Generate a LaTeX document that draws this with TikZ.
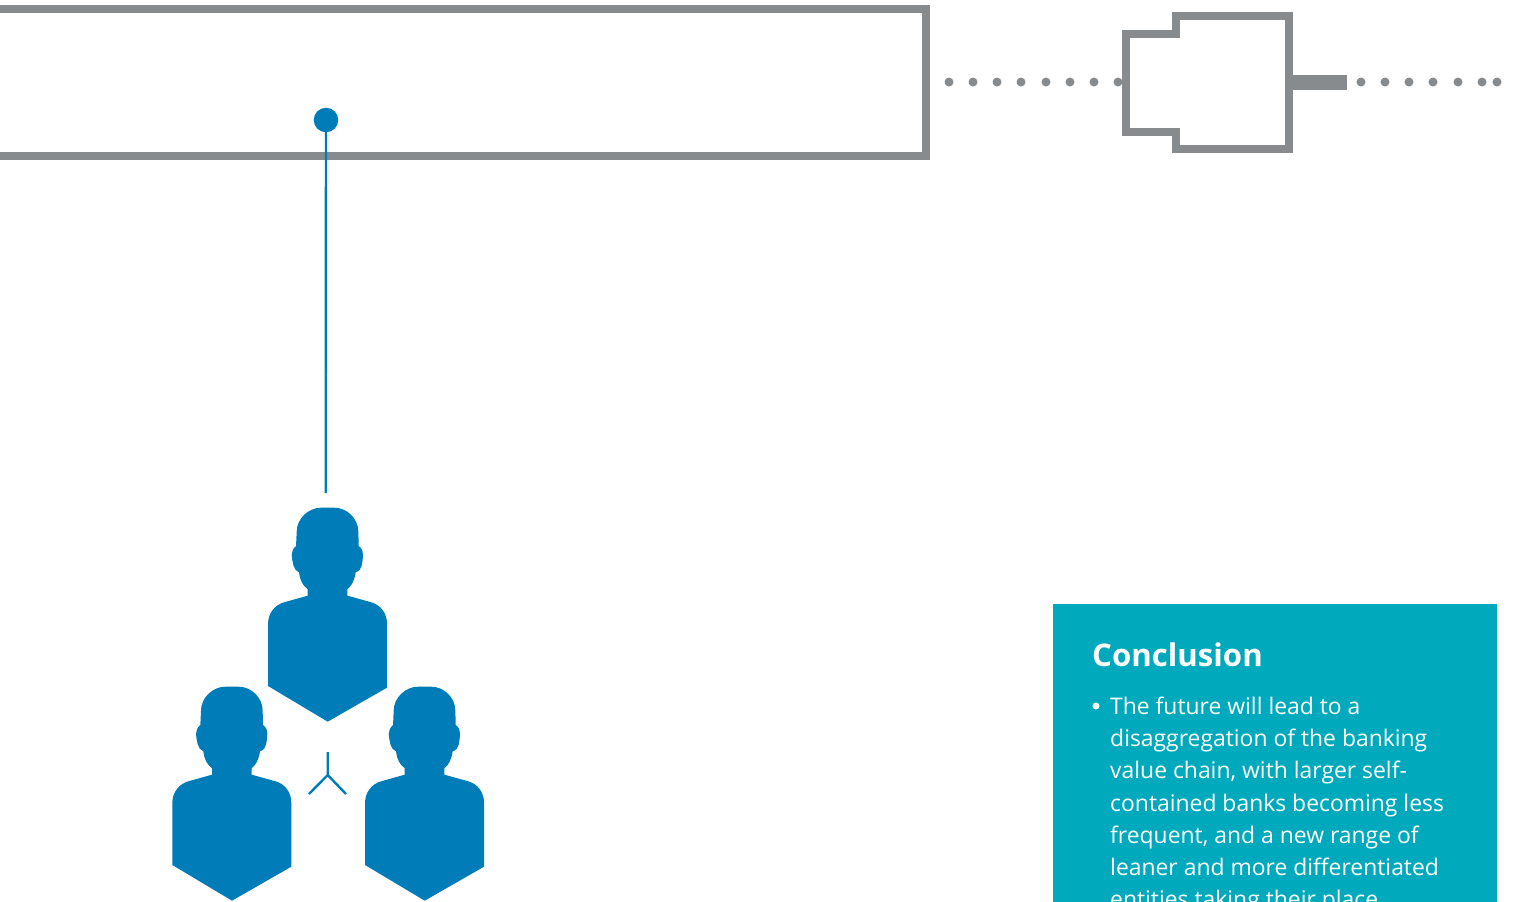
\documentclass[tikz,border=0pt]{standalone}
\usepackage{fontspec}
\setmainfont{Open Sans}
\definecolor{rulegrey}{HTML}{888B8E}
\definecolor{peopleblue}{HTML}{007DB8}
\definecolor{boxteal}{HTML}{00A9BC}
\tikzset{
  x=1pt,y=-1pt,
  frameline/.style={draw=rulegrey,line width=8pt,miter limit=10},
  greydot/.style={circle,fill=rulegrey,inner sep=0pt,minimum size=9pt},
  blueline/.style={draw=peopleblue,line width=2.4pt},
  person/.pic={
    \fill[peopleblue,scale=0.3333] (-93,72) .. controls (-93,33) and (-58,0) .. (-20,0)
      -- (20,0) .. controls (58,0) and (92,33) .. (92,72)
      -- (93,115) .. controls (103,122) and (107,132) .. (106,142)
      .. controls (104,160) and (106,188) .. (84,194)
      .. controls (80,218) and (74,232) .. (59,245)
      -- (59,264) -- (128,283) .. controls (160,291) and (178,318) .. (178,348)
      -- (178,540) -- (0,642) -- (-179,535) -- (-179,348)
      .. controls (-179,318) and (-160,291) .. (-128,283)
      -- (-60,264) -- (-60,245) .. controls (-76,232) and (-83,218) .. (-86,194)
      .. controls (-104,188) and (-106,160) .. (-108,142)
      .. controls (-108,132) and (-104,122) .. (-95,115) -- cycle;
  }
}
\begin{document}
\begin{tikzpicture}
\useasboundingbox (0,0) rectangle (1518,902);
\begin{scope}
\clip (0,0) rectangle (1518,902);
\fill[white] (0,0) rectangle (1518,902);
% large frame
\draw[frameline] (-10,9) -- (926,9) -- (926,156) -- (-10,156);
% stepped block
\draw[frameline] (1126,34) -- (1176,34) -- (1176,16) -- (1289,16) -- (1289,149) -- (1176,149) -- (1176,132) -- (1126,132) -- cycle;
\fill[rulegrey] (1285,75) rectangle (1347,90);
% dotted lines
\foreach \px/\nm in {949/a,973/b,997/c,1021/d,1046/e,1070/f,1094/g,1118/h,1361/i,1385/j,1409/k,1433/l,1458/m,1482/n,1497/o}
  \node[greydot] (dot\nm) at (\px,82) {};
% connector
\node[circle,fill=peopleblue,inner sep=0pt,minimum size=24.5pt] (pin) at (326,120) {};
\coordinate (pinend) at (325.7,493);
\draw[blueline] (pin.center) -- (pinend);
% people
\pic at (327.7,507.7) {person};
\pic at (232,686.7) {person};
\pic at (424.7,686.7) {person};
% small fork
\coordinate (forktop) at (327.7,752);
\coordinate (forkmid) at (327.7,775);
\coordinate (forkl) at (309,794);
\coordinate (forkr) at (346,794);
\draw[blueline] (forktop) -- (forkmid) (forkl) -- (forkmid) -- (forkr);
% conclusion box
\fill[boxteal] (1053,604) rectangle (1497,910);
\node[anchor=base west,inner sep=0pt,text=white,font=\bfseries\fontsize{31.2}{38}\selectfont] (head) at (1092,666) {Conclusion};
\node[circle,fill=white,inner sep=0pt,minimum size=7pt] (bul) at (1096,706) {};
\node[anchor=north west,inner sep=0pt,text=white,align=left,font=\fontsize{22.9}{32.1}\selectfont] (body) at (1110,697) {The future will lead to a\\disaggregation of the banking\\value chain, with larger self-\\contained banks becoming less\\frequent, and a new range of\\leaner and more differentiated\\entities taking their place};
\end{scope}
\end{tikzpicture}
\end{document}
